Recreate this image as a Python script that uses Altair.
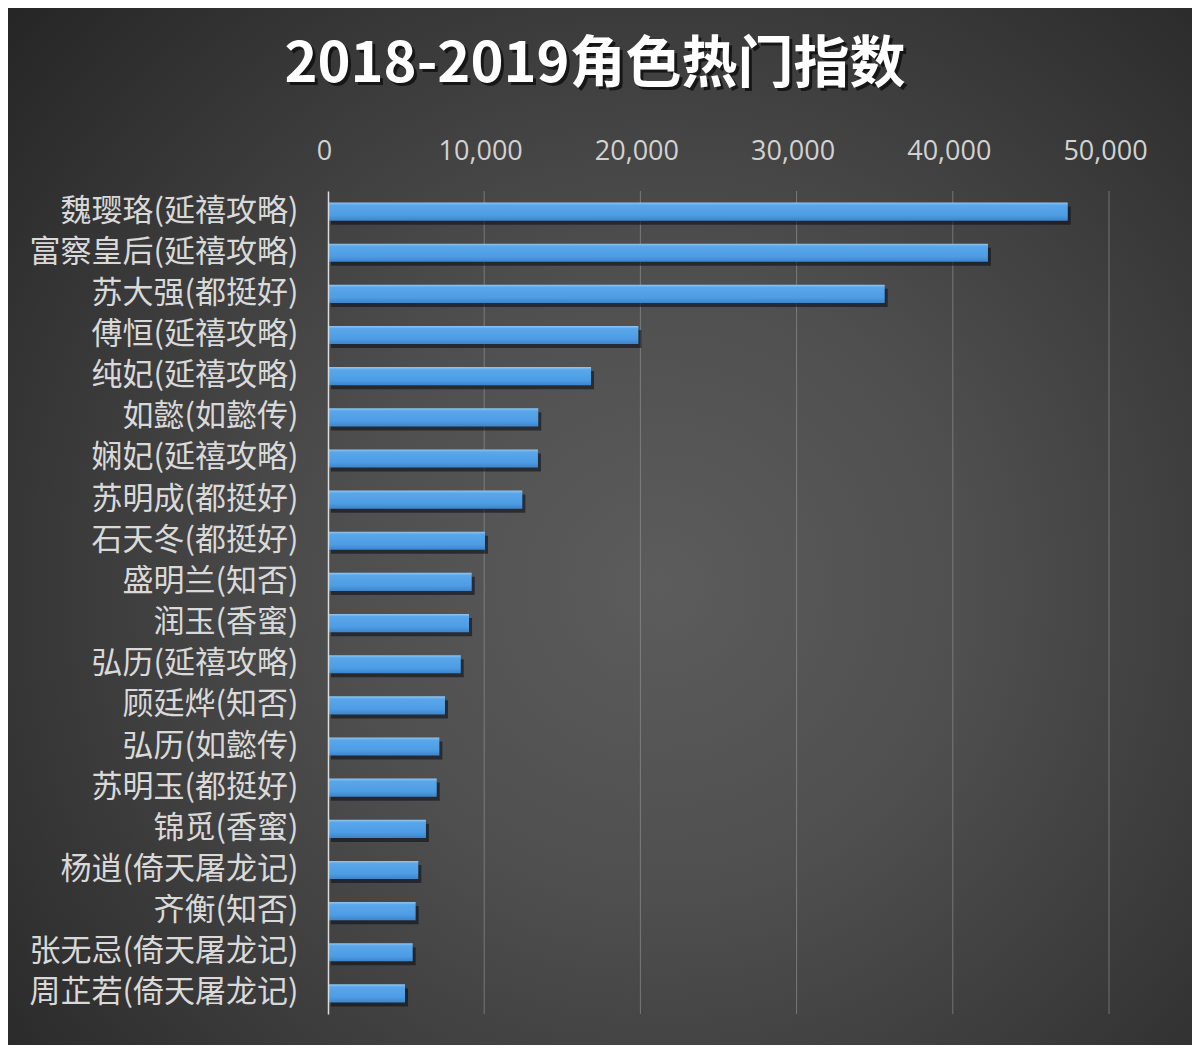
import altair as alt
import pandas as pd

# ---- data ----
roles = [
    "魏璎珞(延禧攻略)", "富察皇后(延禧攻略)", "苏大强(都挺好)", "傅恒(延禧攻略)",
    "纯妃(延禧攻略)", "如懿(如懿传)", "娴妃(延禧攻略)", "苏明成(都挺好)",
    "石天冬(都挺好)", "盛明兰(知否)", "润玉(香蜜)", "弘历(延禧攻略)",
    "顾廷烨(知否)", "弘历(如懿传)", "苏明玉(都挺好)", "锦觅(香蜜)",
    "杨逍(倚天屠龙记)", "齐衡(知否)", "张无忌(倚天屠龙记)", "周芷若(倚天屠龙记)",
]
values = [
    47360, 42250, 35640, 19870,
    16840, 13460, 13440, 12440,
    10050, 9200, 9030, 8500,
    7490, 7130, 6960, 6270,
    5780, 5610, 5420, 4930,
]
tick_values = [0, 10000, 20000, 30000, 40000, 50000]
title_text = "2018-2019角色热门指数"

W, H = 781, 823
PAD = {"left": 320, "top": 183, "right": 83, "bottom": 31}

df = pd.DataFrame({"角色": roles, "指数": values})
grid_df = pd.DataFrame({"指数": tick_values[1:]})
one = pd.DataFrame({"k": [0]})

x_enc = alt.X(
    "指数:Q",
    scale=alt.Scale(domain=[0, 50000], nice=False),
    axis=alt.Axis(
        orient="top", title=None, values=tick_values, format=",.0f",
        labelFont="Open Sans", labelFontSize=27, labelColor="#d2d2d2",
        labelPadding=26, labelOffset=-4, labelFlush=False, labelOverlap=False,
        ticks=False, tickSize=0, domain=False, grid=False, zindex=1,
    ),
)
y_enc = alt.Y(
    "角色:N", sort=None,
    scale=alt.Scale(paddingInner=0.56, paddingOuter=0.28),
    axis=alt.Axis(
        title=None, labelFont="Noto Sans CJK SC", labelFontSize=31,
        labelColor="#d9d9d9", labelPadding=30, labelLimit=400,
        ticks=False, tickSize=0, domain=True, domainColor="#dcdcdc",
        domainWidth=1.5, grid=False, zindex=1,
    ),
)

background = alt.Chart(one).mark_rect(
    color=alt.Gradient(
        gradient="radial",
        stops=[
            alt.GradientStop(color="#5c5c5c", offset=0),
            alt.GradientStop(color="#4f4f4f", offset=0.35),
            alt.GradientStop(color="#242424", offset=1),
        ],
        x1=0.55, y1=0.55, x2=0.55, y2=0.55, r1=0, r2=0.75,
    )
).encode(
    x=alt.value(-PAD["left"]), x2=alt.value(W + PAD["right"]),
    y=alt.value(-PAD["top"]), y2=alt.value(H + PAD["bottom"]),
)

grid = alt.Chart(grid_df).mark_rule(
    color="#a0a0a0", opacity=0.55, strokeWidth=1
).encode(x=x_enc, y=alt.value(0), y2=alt.value(H))

shadow = alt.Chart(df).mark_bar(
    color="#0c121a", opacity=0.6, xOffset=3, yOffset=4
).encode(x=x_enc, y=y_enc)

bars = alt.Chart(df).mark_bar(
    color=alt.Gradient(
        gradient="linear",
        stops=[
            alt.GradientStop(color="#8fc6f3", offset=0),
            alt.GradientStop(color="#5aa6ea", offset=0.15),
            alt.GradientStop(color="#4d9de5", offset=0.7),
            alt.GradientStop(color="#3c85cc", offset=1),
        ],
        x1=0, y1=0, x2=0, y2=1,
    )
).encode(x=x_enc, y=y_enc)

title_shadow = alt.Chart(one).mark_text(
    text=title_text, font="Noto Sans CJK SC", fontSize=56, fontWeight="bold",
    color="#0a0a0a", opacity=0.75, align="center", baseline="middle",
).encode(x=alt.value(595 - 328 + 3), y=alt.value(65 - 191 + 3))

title = alt.Chart(one).mark_text(
    text=title_text, font="Noto Sans CJK SC", fontSize=56, fontWeight="bold",
    color="#ffffff", align="center", baseline="middle",
).encode(x=alt.value(595 - 328), y=alt.value(65 - 191))

chart = alt.layer(
    background, grid, shadow, bars, title_shadow, title
).properties(
    width=W, height=H,
    autosize=alt.AutoSizeParams(type="none"),
    padding=PAD,
    background="#262626",
).configure_view(stroke=None)

chart.save("out.html", embed_options={"renderer": "svg", "actions": False})
